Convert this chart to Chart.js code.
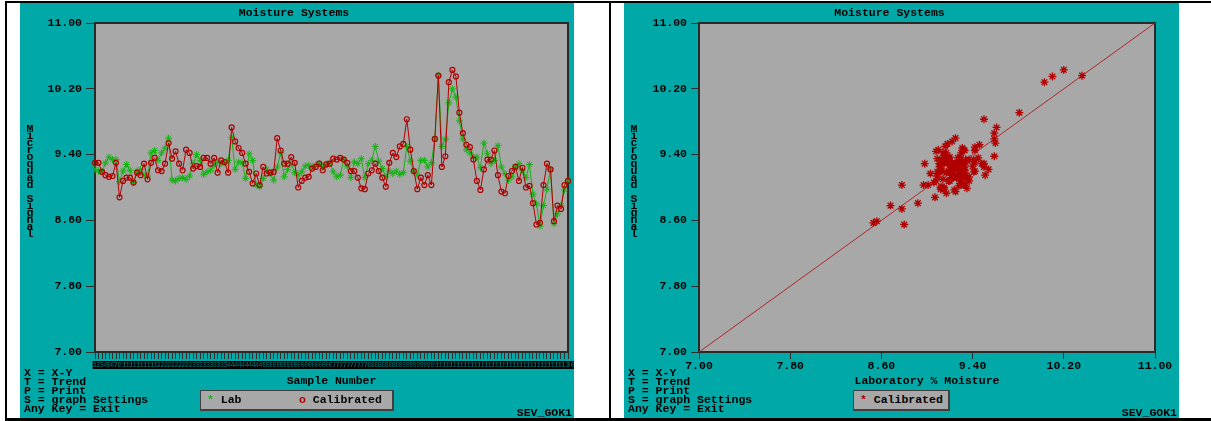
<!DOCTYPE html>
<html>
<head>
<meta charset="utf-8">
<script src="https://cdn.jsdelivr.net/npm/chart.js@4"></script>
<style>
  html, body { margin: 0; padding: 0; background: #fff; }
  body { width: 1211px; height: 421px; position: relative; overflow: hidden;
         font: bold 11.5px "Liberation Mono", monospace; color: #000; }
  .rule { position: absolute; background: #000; }
  .panel { position: absolute; top: 3px; height: 415px; background: #00A8A8; }
  .panel canvas { position: absolute; left: 0; top: 0; }
  .menu { position: absolute; left: 4px; top: 365px; line-height: 9px; white-space: pre; }
  .tag { position: absolute; right: 2px; top: 404px; line-height: 12px; }
  .ylab { position: absolute; left: 3px; top: 122px; width: 14px; text-align: center; }
  .ylab div { height: 7px; line-height: 7px; white-space: pre; }
  .legend { position: absolute; top: 387px; height: 21px; box-sizing: border-box;
            background: #A8A8A8; border: 1px solid #404040; border-right-width: 2px; border-bottom-width: 2px; }
  .legend span.item { position: absolute; top: 0; line-height: 18px; white-space: pre; }
</style>
</head>
<body>
<div class="rule" style="left:5px;top:1px;width:1206px;height:2px"></div>
<div class="rule" style="left:5px;top:1px;width:2px;height:420px"></div>
<div class="rule" style="left:5px;top:418px;width:1206px;height:3px"></div>
<div class="rule" style="left:609px;top:1px;width:2px;height:420px"></div>

<div class="panel" id="leftPanel" style="left:20px;width:554px">
  <canvas id="trend" width="554" height="415"></canvas>
</div>
<div class="panel" id="rightPanel" style="left:624px;width:555px">
  <canvas id="xy" width="555" height="415"></canvas>
</div>

<script>
// Moisture readings per sample: laboratory reference and calibrated MicroQuad signal
const calibrated = [
  9.30, 9.30, 9.19, 9.15, 9.13, 9.14, 9.30, 8.88, 9.08, 9.12,
  9.12, 9.06, 9.18, 9.15, 9.29, 9.10, 9.30, 9.36, 9.21, 9.20,
  9.29, 9.54, 9.35, 9.44, 9.29, 9.21, 9.46, 9.42, 9.23, 9.26,
  9.25, 9.36, 9.36, 9.29, 9.36, 9.18, 9.33, 9.31, 9.18, 9.73,
  9.56, 9.48, 9.42, 9.29, 9.19, 9.05, 9.17, 9.03, 9.25, 9.17,
  9.18, 9.19, 9.60, 9.45, 9.29, 9.29, 9.37, 9.30, 9.00, 9.08,
  9.12, 9.13, 9.23, 9.25, 9.29, 9.21, 9.28, 9.29, 9.35,
  9.34, 9.36, 9.34, 9.30, 9.20, 9.20, 9.12, 8.99, 8.98, 9.17,
  9.21, 9.29, 9.20, 9.12, 9.01, 9.30, 9.42, 9.37, 9.50, 9.53,
  9.83, 9.46, 9.20, 8.98, 9.12, 9.03, 9.15, 9.03, 9.59, 10.36,
  9.25, 9.38, 10.28, 10.43, 10.35, 9.91, 9.66, 9.52, 9.49, 9.34,
  9.08, 8.97, 9.22, 9.34, 9.34, 9.45, 9.15, 8.95, 8.93, 9.14,
  9.20, 9.25, 9.08, 9.24, 9.00, 9.02, 8.81, 8.55, 8.57, 9.03,
  9.29, 9.22, 8.59, 8.78, 8.74, 9.03, 9.08
];
const lab = [
  9.22, 9.20, 9.19, 9.30, 9.37, 9.34, 9.34, 9.07, 9.20, 9.28,
  9.21, 9.06, 9.20, 9.22, 9.15, 9.14, 9.42, 9.45, 9.33, 9.42,
  9.48, 9.60, 9.09, 9.08, 9.11, 9.12, 9.10, 9.14, 9.29, 9.40,
  9.33, 9.16, 9.19, 9.21, 9.27, 9.31, 9.29, 9.30, 9.33, 9.61,
  9.22, 9.31, 9.30, 9.11, 9.41, 9.33, 9.03, 9.01, 9.11, 9.22,
  9.17, 9.09, 9.25, 9.42, 9.13, 9.22, 9.29, 9.18, 9.15, 9.19,
  9.26, 9.27, 9.25, 9.27, 9.29, 9.25, 9.28, 9.30, 9.19,
  9.13, 9.15, 9.34, 9.26, 9.12, 9.31, 9.29, 9.35, 9.12, 9.29,
  9.33, 9.50, 9.32, 9.23, 9.13, 9.20, 9.17, 9.20, 9.16, 9.18,
  9.50, 9.32, 9.19, 9.15, 9.33, 9.33, 9.25, 9.30, 9.59, 10.36,
  9.50, 9.59, 10.03, 10.20, 10.10, 9.81, 9.59, 9.46, 9.42, 9.37,
  9.37, 9.24, 9.54, 9.41, 9.29, 9.33, 9.51, 9.25, 9.17, 9.09,
  9.13, 9.25, 9.29, 9.21, 9.12, 9.28, 8.92, 8.80, 8.53, 8.78,
  8.98, 9.22, 8.56, 8.68, 8.78, 8.97, 9.08
];
// Sample numbers along the trend axis
const sampleNumbers = Array.from({ length: calibrated.length }, (_, i) => String(i + 1));
// Axis tick values (both axes share the same moisture range)
const moistureTicks = [7.00, 7.80, 8.60, 9.40, 10.20, 11.00];

const seriesNames = { lab: 'Lab', calibrated: 'Calibrated' };
const titleText = 'Moisture Systems';
const yTitle = 'Microquad Signal';
const trendXTitle = 'Sample Number';
const xyXTitle = 'Laboratory % Moisture';
const menuLines = ['X = X-Y', 'T = Trend', 'P = Print', 'S = graph Settings', 'Any Key = Exit'];
const stationTag = 'SEV_GOK1';

const RED = '#B00000';
const GREEN = '#14B414';
const INK = '#000000';
const TICK = '#303030';
const FONT = '"Liberation Mono", monospace';

Chart.defaults.font.family = FONT;
Chart.defaults.font.size = 11.5;
Chart.defaults.font.weight = 'bold';
Chart.defaults.color = INK;

// Gray plotting field with a dark frame
const plotFrame = {
  id: 'plotFrame',
  beforeDatasetsDraw(chart) {
    const { ctx, chartArea: a } = chart;
    ctx.save();
    ctx.fillStyle = '#A8A8A8';
    ctx.fillRect(a.left, a.top, a.width, a.height);
    ctx.strokeStyle = '#2A2A2A';
    ctx.lineWidth = 2;
    ctx.strokeRect(a.left, a.top, a.width, a.height);
    ctx.restore();
  }
};

const fixedTicks = values => scale => { scale.ticks = values.map(v => ({ value: v })); };

function moistureAxis(tickLength) {
  return {
    type: 'linear', min: moistureTicks[0], max: moistureTicks[moistureTicks.length - 1],
    afterBuildTicks: fixedTicks(moistureTicks),
    afterFit(s) { s.width = 75; },
    ticks: { callback: v => Number(v).toFixed(2), padding: 4, color: INK,
             font: { size: 11.5, weight: 'bold', lineHeight: 1 } },
    grid: { drawOnChartArea: false, drawTicks: true, tickLength, tickColor: TICK, tickWidth: 1 },
    border: { display: false }
  };
}

const commonPlugins = {
  legend: { display: false },
  tooltip: { enabled: false },
  title: {
    display: true, text: titleText, color: INK,
    font: { size: 11.5, weight: 'bold', lineHeight: 1 },
    padding: { top: 4.25, bottom: 4.25 }
  }
};

// Trend of both series against sample number
new Chart(document.getElementById('trend'), {
  type: 'line',
  data: {
    labels: sampleNumbers,
    datasets: [
      {
        label: seriesNames.calibrated, data: calibrated,
        borderColor: RED, borderWidth: 1, tension: 0,
        pointStyle: 'circle', pointRadius: 2.5, pointBorderWidth: 1.2,
        pointBorderColor: RED, pointBackgroundColor: 'rgba(0,0,0,0)'
      },
      {
        label: seriesNames.lab, data: lab,
        borderColor: GREEN, borderWidth: 1, tension: 0,
        pointStyle: 'star', pointRadius: 3.5, pointBorderWidth: 1,
        pointBorderColor: GREEN, pointBackgroundColor: GREEN
      }
    ]
  },
  options: {
    responsive: false, animation: false, devicePixelRatio: 1,
    layout: { padding: { left: 0, right: 6, top: 0, bottom: 0 } },
    scales: {
      x: {
        type: 'category', offset: false,
        afterFit(s) { s.height = 66; s.paddingLeft = 0; s.paddingRight = 0; },
        ticks: { autoSkip: false, maxRotation: 0, minRotation: 0, padding: 2, color: '#0A5A5A',
                 font: { size: 8, weight: 'bold', lineHeight: 1 },
                 showLabelBackdrop: true, backdropColor: '#000000', backdropPadding: 0 },
        grid: { drawOnChartArea: false, drawTicks: true, tickLength: 7, tickColor: TICK, tickWidth: 1 },
        border: { display: false },
        title: { display: true, text: trendXTitle, color: INK,
                 font: { size: 11.5, weight: 'bold', lineHeight: 1 },
                 padding: { top: 0, bottom: 31.5 } }
      },
      y: moistureAxis(9)
    },
    plugins: commonPlugins
  },
  plugins: [plotFrame]
});

// Calibrated signal against laboratory moisture, with the 1:1 line
const xyPoints = lab.map((x, i) => ({ x, y: calibrated[i] }));
const lo = moistureTicks[0], hi = moistureTicks[moistureTicks.length - 1];
const identityLine = [{ x: lo, y: lo }, { x: hi, y: hi }];

const xAxis = moistureAxis(7);
xAxis.afterFit = s => { s.height = 66; s.paddingLeft = 0; s.paddingRight = 0; };
xAxis.ticks = Object.assign({}, xAxis.ticks, { padding: 1 });
xAxis.title = { display: true, text: xyXTitle, color: INK,
                font: { size: 11.5, weight: 'bold', lineHeight: 1 },
                padding: { top: 0, bottom: 31.5 } };

new Chart(document.getElementById('xy'), {
  type: 'scatter',
  data: {
    datasets: [
      {
        label: seriesNames.calibrated, data: xyPoints,
        pointStyle: 'star', pointRadius: 4, pointBorderWidth: 1.3,
        pointBorderColor: RED, pointBackgroundColor: RED, showLine: false
      },
      {
        type: 'line', label: '1:1', data: identityLine, showLine: true,
        borderColor: '#B02828', borderWidth: 1, pointRadius: 0, tension: 0
      }
    ]
  },
  options: {
    responsive: false, animation: false, devicePixelRatio: 1,
    layout: { padding: { left: 0, right: 24, top: 0, bottom: 0 } },
    scales: { x: xAxis, y: moistureAxis(8) },
    plugins: commonPlugins
  },
  plugins: [plotFrame]
});

// Panel furniture: stacked axis caption, key menu, station tag and legend box
function decorate(panel, legendWidth, items) {
  const yl = document.createElement('div');
  yl.className = 'ylab';
  yTitle.split('').forEach(ch => {
    const d = document.createElement('div');
    d.textContent = ch;
    yl.appendChild(d);
  });
  panel.appendChild(yl);

  const menu = document.createElement('div');
  menu.className = 'menu';
  menu.textContent = menuLines.join('\n');
  panel.appendChild(menu);

  const tag = document.createElement('div');
  tag.className = 'tag';
  tag.textContent = stationTag;
  panel.appendChild(tag);

  const box = document.createElement('div');
  box.className = 'legend';
  box.style.width = legendWidth + 'px';
  box.style.left = Math.round((panel.clientWidth - legendWidth) / 2) + 'px';
  items.forEach(it => {
    const s = document.createElement('span');
    s.className = 'item';
    s.style.left = it.left + 'px';
    const m = document.createElement('span');
    m.style.color = it.color;
    m.textContent = it.marker;
    s.appendChild(m);
    s.appendChild(document.createTextNode(' ' + it.text));
    box.appendChild(s);
  });
  panel.appendChild(box);
}

decorate(document.getElementById('leftPanel'), 194, [
  { marker: '*', color: GREEN, text: seriesNames.lab, left: 6 },
  { marker: 'o', color: RED, text: seriesNames.calibrated, left: 98 }
]);
decorate(document.getElementById('rightPanel'), 97, [
  { marker: '*', color: RED, text: seriesNames.calibrated, left: 6 }
]);
</script>
</body>
</html>
